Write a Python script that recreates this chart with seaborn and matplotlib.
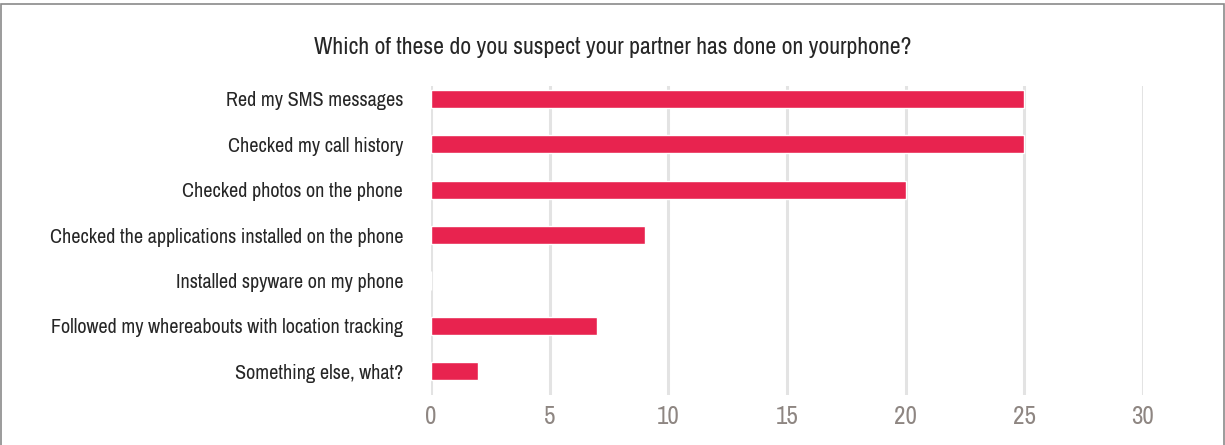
import matplotlib
matplotlib.use("Agg")
import matplotlib.pyplot as plt
from matplotlib.patches import Rectangle
from matplotlib import font_manager
import seaborn as sns
import pandas as pd

categories = [
    "Red my SMS messages",
    "Checked my call history",
    "Checked photos on the phone",
    "Checked the applications installed on the phone",
    "Installed spyware on my phone",
    "Followed my whereabouts with location tracking",
    "Something else, what?",
]
counts = [25, 25, 20, 9, 0, 7, 2]
x_ticks = [0, 5, 10, 15, 20, 25, 30]
title = "Which of these do you suspect your partner has done on yourphone?"

sns.set_theme(style="white")

# Prefer a narrow face when one is available
narrow = None
for f in font_manager.fontManager.ttflist:
    n = f.name.lower()
    if ("narrow" in n or "condensed" in n) and f.style == "normal":
        narrow = (f.name, "normal")
        break
if narrow is None:
    for f in font_manager.fontManager.ttflist:
        if f.stretch in ("condensed", "semi-condensed") and f.style == "normal" and f.weight in (400, "normal", "regular"):
            narrow = (f.name, f.stretch)
            break
if narrow is None:
    narrow = ("Roboto", "normal")
plt.rcParams["font.family"] = [narrow[0], "DejaVu Sans"]
plt.rcParams["font.stretch"] = narrow[1]

df = pd.DataFrame({"category": categories, "count": counts})

W, H = 1225, 445
fig = plt.figure(figsize=(W / 100, H / 100), dpi=100)
ax = fig.add_axes([431 / W, 1 - 395 / H, (1143 - 431) / W, (395 - 86) / H])

sns.barplot(data=df, x="count", y="category", order=categories,
            color="#E8234F", saturation=1, width=0.4, ax=ax, zorder=3)

ax.set_xlim(0, 30)
ax.set_ylim(6.52, -0.28)
ax.set_xticks(x_ticks)
ax.set_xticklabels([str(t) for t in x_ticks])
ax.grid(axis="x", color="#E3E3E3", linewidth=2.2, zorder=0)
ax.grid(axis="y", visible=False)
for s in ax.spines.values():
    s.set_visible(False)
ax.set_xlabel("")
ax.set_ylabel("")
ax.tick_params(axis="x", length=0, pad=7, labelsize=18, labelcolor="#8E8682")
ax.tick_params(axis="y", length=0, pad=20, labelsize=13.5, labelcolor="#262626")

ttl = fig.text((313 + 913) / 2 / W, 1 - 48 / H, title, ha="center", va="center",
               fontsize=16.5, color="#262626")

# Size the category labels and title to their intended widths
fig.canvas.draw()
renderer = fig.canvas.get_renderer()
ylabels = ax.get_yticklabels()
widest = max(t.get_window_extent(renderer).width for t in ylabels)
ysize = min(16.5, 13.5 * 353 / widest)
for t in ylabels:
    t.set_fontsize(ysize)
tw = ttl.get_window_extent(renderer).width
ttl.set_fontsize(min(21, 16.5 * 600 / tw))

fig.patches.append(Rectangle((1 / W, -0.05), 1223 / W, 1.05 - 4 / H,
                             transform=fig.transFigure, fill=False,
                             edgecolor="#8A8A8A", linewidth=1.2))

fig.savefig("out.png", dpi=100, facecolor="white")
